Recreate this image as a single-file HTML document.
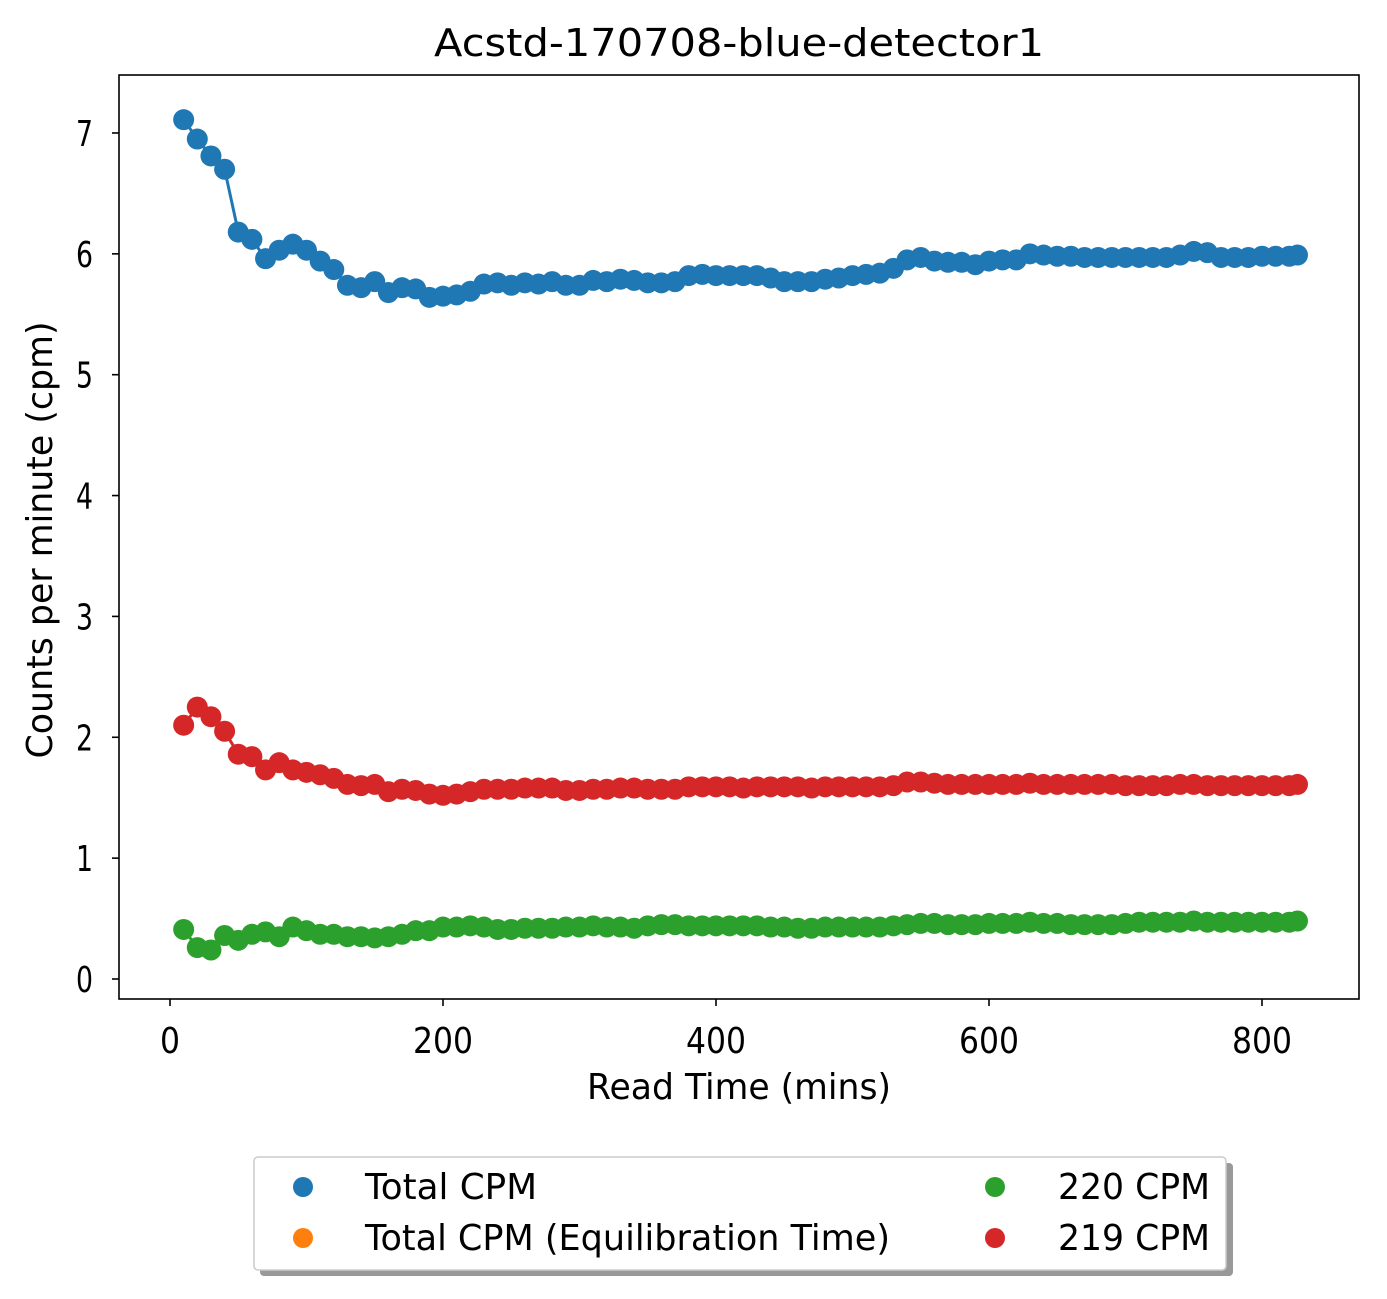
<!DOCTYPE html>
<html><head><meta charset="utf-8"><style>
body{margin:0;background:#fff;}
svg text{font-family:"DejaVu Sans","Liberation Sans",sans-serif;fill:#000;}
</style></head><body>
<svg id="chart" width="1387" height="1294" xmlns="http://www.w3.org/2000/svg">
<rect x="0" y="0" width="1387" height="1294" fill="#fff"/>
<text transform="translate(739,56) scale(1,1.33)" font-size="29" text-anchor="middle" textLength="610" lengthAdjust="spacingAndGlyphs">Acstd-170708-blue-detector1</text>
<g id="plot"></g>
<rect x="119" y="75" width="1240" height="924" fill="none" stroke="#000" stroke-width="1.6"/>
<g id="axes"></g>
<text transform="translate(739,1099) scale(1,1.33)" font-size="27" text-anchor="middle" textLength="304" lengthAdjust="spacingAndGlyphs">Read Time (mins)</text>
<text transform="translate(52,540) rotate(-90) scale(1,1.33)" font-size="27" text-anchor="middle" textLength="437" lengthAdjust="spacingAndGlyphs">Counts per minute (cpm)</text>
<g>
<rect x="260" y="1163" width="973" height="113" rx="4" fill="#999"/>
<rect x="254" y="1157" width="972" height="113" rx="4" fill="#fff" stroke="#ccc" stroke-width="1.5"/>
<g><circle cx="303" cy="1187" r="10" fill="#1f77b4"/><text transform="translate(365,1199) scale(1,1.33)" font-size="27" textLength="172" lengthAdjust="spacingAndGlyphs">Total CPM</text></g>
<g><circle cx="303" cy="1238" r="10" fill="#ff7f0e"/><text transform="translate(365,1250) scale(1,1.33)" font-size="27" textLength="525" lengthAdjust="spacingAndGlyphs">Total CPM (Equilibration Time)</text></g>
<g><circle cx="995" cy="1187" r="10" fill="#2ca02c"/><text transform="translate(1058,1199) scale(1,1.33)" font-size="27" textLength="152" lengthAdjust="spacingAndGlyphs">220 CPM</text></g>
<g><circle cx="995" cy="1238" r="10" fill="#d62728"/><text transform="translate(1058,1250) scale(1,1.33)" font-size="27" textLength="152" lengthAdjust="spacingAndGlyphs">219 CPM</text></g>
</g>
</svg>
<script>
const times = [10,20,30,40,50,60,70,80,90,100,110,120,130,140,150,160,170,180,190,200,210,220,230,240,250,260,270,280,290,300,310,320,330,340,350,360,370,380,390,400,410,420,430,440,450,460,470,480,490,500,510,520,530,540,550,560,570,580,590,600,610,620,630,640,650,660,670,680,690,700,710,720,730,740,750,760,770,780,790,800,810,820,826];
const totalCpm = [7.11,6.95,6.81,6.70,6.18,6.12,5.96,6.03,6.08,6.03,5.94,5.87,5.74,5.72,5.77,5.68,5.72,5.71,5.64,5.65,5.66,5.69,5.75,5.76,5.74,5.76,5.75,5.77,5.74,5.74,5.78,5.77,5.79,5.78,5.76,5.76,5.77,5.82,5.83,5.82,5.82,5.82,5.82,5.80,5.77,5.77,5.77,5.79,5.80,5.82,5.83,5.84,5.88,5.95,5.97,5.94,5.93,5.93,5.91,5.94,5.95,5.95,6.00,5.99,5.98,5.98,5.97,5.97,5.97,5.97,5.97,5.97,5.97,5.99,6.02,6.01,5.97,5.97,5.97,5.98,5.98,5.98,5.99];
const cpm219 = [2.10,2.25,2.17,2.05,1.86,1.84,1.73,1.79,1.73,1.71,1.69,1.66,1.61,1.60,1.61,1.55,1.57,1.56,1.53,1.52,1.53,1.55,1.57,1.57,1.57,1.58,1.58,1.58,1.56,1.56,1.57,1.57,1.58,1.58,1.57,1.57,1.57,1.59,1.59,1.59,1.59,1.58,1.59,1.59,1.59,1.59,1.58,1.59,1.59,1.59,1.59,1.59,1.60,1.63,1.63,1.62,1.61,1.61,1.61,1.61,1.61,1.61,1.62,1.61,1.61,1.61,1.61,1.61,1.61,1.60,1.60,1.60,1.60,1.61,1.61,1.60,1.60,1.60,1.60,1.60,1.60,1.60,1.61];
const cpm220 = [0.41,0.26,0.24,0.36,0.32,0.37,0.39,0.35,0.43,0.40,0.37,0.37,0.35,0.35,0.34,0.35,0.37,0.40,0.40,0.43,0.43,0.44,0.43,0.41,0.41,0.42,0.42,0.42,0.43,0.43,0.44,0.43,0.43,0.42,0.44,0.45,0.45,0.44,0.44,0.44,0.44,0.44,0.44,0.43,0.43,0.42,0.42,0.43,0.43,0.43,0.43,0.43,0.44,0.45,0.46,0.46,0.45,0.45,0.45,0.46,0.46,0.46,0.47,0.46,0.46,0.45,0.45,0.45,0.45,0.46,0.47,0.47,0.47,0.47,0.48,0.47,0.47,0.47,0.47,0.47,0.47,0.47,0.48];
const xTicks = [0,200,400,600,800];
const yTicks = [0,1,2,3,4,5,6,7];

const NS = "http://www.w3.org/2000/svg";
function sx(v){ return 170 + v * 1.365; }
function sy(v){ return 979 - v * 120.86; }
const plot = document.getElementById('plot');
const axes = document.getElementById('axes');
function mk(tag, attrs, parent){
  const e = document.createElementNS(NS, tag);
  for (const k in attrs) e.setAttribute(k, attrs[k]);
  parent.appendChild(e);
  return e;
}
function series(vals, color, name, withLine){
  const g = mk('g', {}, plot);
  
  
  if (withLine){
    const pts = vals.map((v,i)=>sx(times[i]).toFixed(1)+','+sy(v).toFixed(1)).join(' ');
    const pl = mk('polyline', {points: pts, fill:'none', stroke: color, 'stroke-width': 3}, g);
    
    
  }
  vals.forEach((v,i)=>{
    const c = mk('circle', {cx: sx(times[i]), cy: sy(v), r: 10.5, fill: color}, g);
    
    
  });
}
series(totalCpm, '#1f77b4', 'total-cpm-series', true);
series(cpm220, '#2ca02c', 'cpm-220-series', true);
series(cpm219, '#d62728', 'cpm-219-series', true);

xTicks.forEach(t=>{
  const x = sx(t);
  const l = mk('line', {x1:x, x2:x, y1:999, y2:1006, stroke:'#000', 'stroke-width':1.6}, axes);
  
  
  const s = String(t);
  const tx = mk('text', {transform:'translate(' + x + ',1053) scale(1,1.15)', 'font-size':31, 'text-anchor':'middle', textLength: s.length*20, lengthAdjust:'spacingAndGlyphs'}, axes);
  
  
  tx.textContent = s;
});
yTicks.forEach(t=>{
  const y = sy(t);
  const l = mk('line', {x1:112, x2:119, y1:y, y2:y, stroke:'#000', 'stroke-width':1.6}, axes);
  
  
  const s = String(t);
  const tx = mk('text', {transform:'translate(93,' + (y+13) + ') scale(1,1.15)', 'font-size':31, 'text-anchor':'end', textLength: s.length*17, lengthAdjust:'spacingAndGlyphs'}, axes);
  
  
  tx.textContent = s;
});
</script>
</body></html>
